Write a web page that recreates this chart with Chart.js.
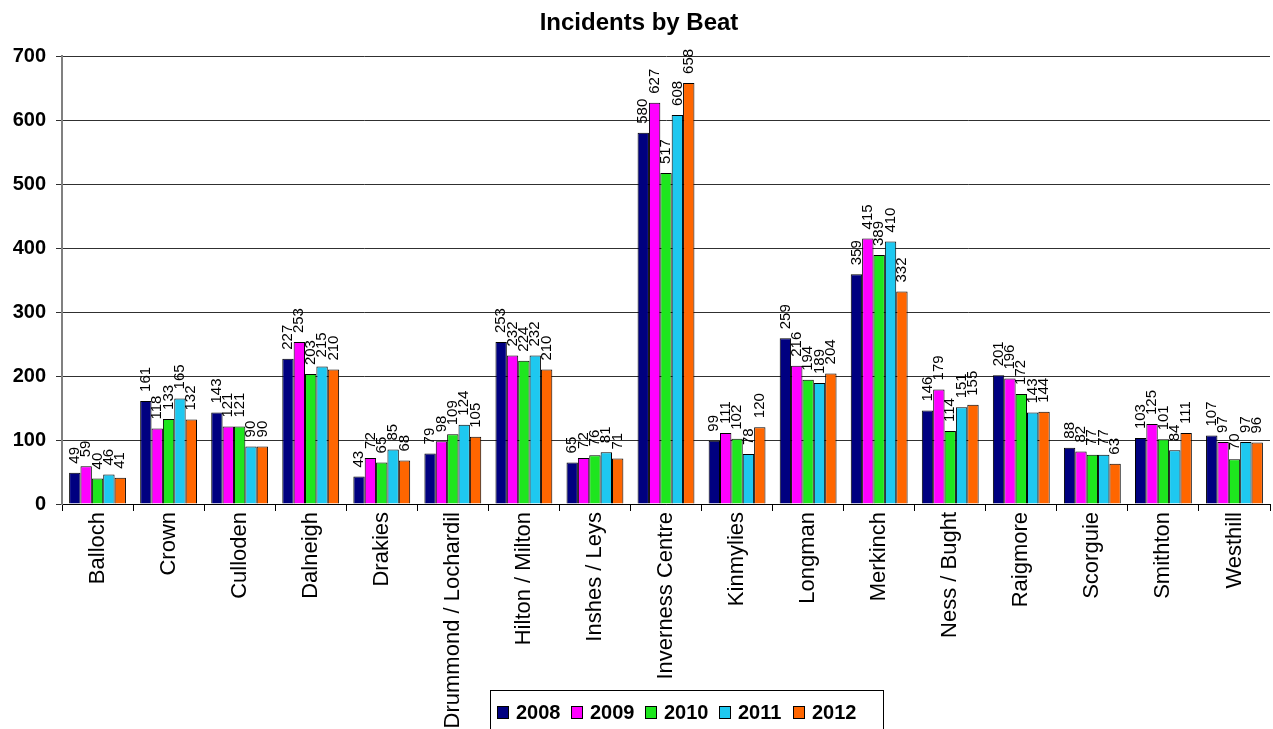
<!DOCTYPE html>
<html>
<head>
<meta charset="utf-8">
<script src="https://cdn.jsdelivr.net/npm/chart.js@4.4.1/dist/chart.umd.min.js"></script>
<style>
html,body{margin:0;padding:0;background:#fff;}
#wrap{position:relative;width:1273px;height:729px;}
</style>
</head>
<body>
<div id="wrap"><canvas id="c" width="1273" height="729"></canvas></div>
<script>
const categories = ["Balloch","Crown","Culloden","Dalneigh","Drakies","Drummond / Lochardil","Hilton / Milton","Inshes / Leys","Inverness Centre","Kinmylies","Longman","Merkinch","Ness / Bught","Raigmore","Scorguie","Smithton","Westhill"];
const seriesNames = ["2008","2009","2010","2011","2012"];
const s2008 = [49,161,143,227,43,79,253,65,580,99,259,359,146,201,88,103,107];
const s2009 = [59,118,121,253,72,98,232,72,627,111,216,415,179,196,82,125,97];
const s2010 = [40,133,121,203,65,109,224,76,517,102,194,389,114,172,77,101,70];
const s2011 = [46,165,90,215,85,124,232,81,608,78,189,410,151,143,77,84,97];
const s2012 = [41,132,90,210,68,105,210,71,658,120,204,332,155,144,63,111,96];
const yTicks = [0,100,200,300,400,500,600,700];
const titleText = "Incidents by Beat";

const colors = ["#000080","#FF00FF","#1EE61E","#1EC8F0","#FF6600"];
const allSeries = [s2008,s2009,s2010,s2011,s2012];

const FONT = "'Liberation Sans', Arial, sans-serif";

const valueLabels = {
  id:'valueLabels',
  afterDatasetsDraw(chart){
    const ctx = chart.ctx;
    ctx.save();
    ctx.font = "15px " + FONT;
    ctx.fillStyle = "#000";
    ctx.textAlign = "left";
    ctx.textBaseline = "middle";
    chart.data.datasets.forEach((ds,i)=>{
      const meta = chart.getDatasetMeta(i);
      meta.data.forEach((bar,j)=>{
        ctx.save();
        ctx.translate(bar.x, bar.y - 9);
        ctx.rotate(-Math.PI/2);
        ctx.fillText(String(ds.data[j]), 0, 0);
        ctx.restore();
      });
    });
    ctx.restore();
  }
};

const titleAndLegend = {
  id:'titleAndLegend',
  afterDraw(chart){
    const ctx = chart.ctx;
    ctx.save();
    ctx.fillStyle = "#000";
    ctx.font = "bold 24px " + FONT;
    ctx.textAlign = "center";
    ctx.textBaseline = "middle";
    ctx.fillText(titleText, 639, 23);
    // legend
    const bx = 490, by = 690, bw = 393, bh = 45;
    ctx.fillStyle = "#fff";
    ctx.fillRect(bx, by, bw, bh);
    ctx.strokeStyle = "#000";
    ctx.lineWidth = 1;
    ctx.strokeRect(bx+0.5, by+0.5, bw, bh);
    ctx.font = "bold 20px " + FONT;
    ctx.textAlign = "left";
    let x = bx + 7;
    const cy = 712;
    seriesNames.forEach((n,i)=>{
      ctx.fillStyle = colors[i];
      ctx.fillRect(x, cy-6, 12, 13);
      ctx.strokeStyle = "#000";
      ctx.strokeRect(x+0.5, cy-5.5, 11, 12);
      ctx.fillStyle = "#000";
      ctx.fillText(n, x+19, cy+1);
      x += 74;
    });
    ctx.restore();
  }
};

new Chart(document.getElementById('c'), {
  type:'bar',
  data:{
    labels: categories,
    datasets: allSeries.map((d,i)=>({
      label: seriesNames[i],
      data: d,
      backgroundColor: colors[i],
      borderColor: "#000",
      borderWidth: 1,
      categoryPercentage: 0.8,
      barPercentage: 1.0
    }))
  },
  options:{
    responsive:false,
    animation:false,
    layout:{padding:{left:0,top:56,right:3,bottom:0}},
    plugins:{legend:{display:false}, title:{display:false}, tooltip:{enabled:false}},
    scales:{
      x:{
        offset:true,
        grid:{display:true, drawOnChartArea:false, drawTicks:true, tickLength:7, color:"#000", offset:true},
        border:{display:true, color:"#000", width:1},
        ticks:{autoSkip:false, minRotation:90, maxRotation:90, color:"#000", padding:1,
               font:{family:FONT, size:22}},
        afterFit(scale){ scale.height = 225; }
      },
      y:{
        min:0, max:700,
        afterBuildTicks(scale){ scale.ticks = yTicks.map(v=>({value:v})); },
        grid:{color:"#303030", lineWidth:1, drawTicks:true, tickLength:6},
        border:{display:true, color:"#808080", width:2},
        ticks:{color:"#000", padding:10, font:{family:FONT, size:20, weight:'bold'}},
        afterFit(scale){ scale.width = 62; }
      }
    }
  },
  plugins:[valueLabels, titleAndLegend]
});
</script>
</body>
</html>
